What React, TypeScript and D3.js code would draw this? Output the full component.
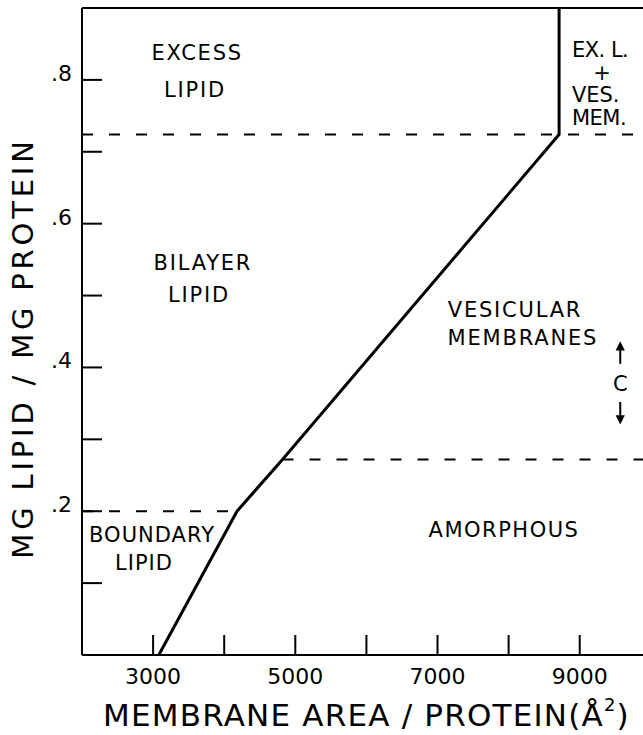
import React from 'react';
import * as d3 from 'd3';

// phase boundary (membrane area per protein, mg lipid / mg protein)
const boundaryPts: [number, number][] = [
  [3080, 0],
  [4180, 0.2],
  [4820, 0.272],
  [8710, 0.724],
  [8710, 0.9],
];

const dashedLines = [
  { y: 0.724, from: 2000, to: 9890 },
  { y: 0.2, from: 2000, to: 4180 },
  { y: 0.272, from: 4820, to: 9890 },
];

const xTicks = [3000, 4000, 5000, 6000, 7000, 8000, 9000];
const xTickLabels = [3000, 5000, 7000, 9000];
const yTicks = [0.1, 0.2, 0.3, 0.4, 0.5, 0.6, 0.7, 0.8];
const yTickLabels = [0.2, 0.4, 0.6, 0.8];

const regionLabels = [
  { text: 'EXCESS', x: 3620, y: 0.828, anchor: 'middle', sp: 1.8 },
  { text: 'LIPID', x: 3590, y: 0.776, anchor: 'middle', sp: 1.8 },
  { text: 'BILAYER', x: 3700, y: 0.5355, anchor: 'middle', sp: 1.8 },
  { text: 'LIPID', x: 3645, y: 0.491, anchor: 'middle', sp: 1.8 },
  { text: 'VESICULAR', x: 8090, y: 0.47, anchor: 'middle', sp: 1.8 },
  { text: 'MEMBRANES', x: 8200, y: 0.431, anchor: 'middle', sp: 1.8 },
  { text: 'AMORPHOUS', x: 7935, y: 0.164, anchor: 'middle', sp: 1.5 },
  { text: 'BOUNDARY', x: 2985, y: 0.157, anchor: 'middle', sp: 1 },
  { text: 'LIPID', x: 2872, y: 0.118, anchor: 'middle', sp: 1 },
  { text: 'EX. L.', x: 8890, y: 0.832, anchor: 'start', sp: -0.5 },
  { text: '+', x: 9313, y: 0.8, anchor: 'middle', sp: 0 },
  { text: 'VES.', x: 8890, y: 0.769, anchor: 'start', sp: 0 },
  { text: 'MEM.', x: 8890, y: 0.737, anchor: 'start', sp: -0.5 },
];

const cArrow = { x: 9570, top: 0.432, upEnd: 0.405, label: 0.367, downStart: 0.352, bottom: 0.325 };

const W = 643;
const H = 735;
const FONT = 'DejaVu Sans, sans-serif';

const App = () => {
  const x = d3.scaleLinear().domain([2000, 9890]).range([82, 643]);
  const y = d3.scaleLinear().domain([0, 0.9]).range([655, 8]);

  const line = d3.line<[number, number]>()
    .x(d => x(d[0]))
    .y(d => y(d[1]));

  const x0 = x(2000);
  const y0 = y(0);
  const yTop = y(0.9);
  const cx = x(cArrow.x);

  return (
    <svg width={W} height={H} style={{ position: 'absolute', left: 0, top: 0, background: '#fff' }}>
      {/* frame: left axis, bottom axis, top line */}
      <g stroke="#000" strokeWidth={2} fill="none">
        <line x1={x0} y1={yTop} x2={x0} y2={y0} />
        <line x1={x0} y1={y0} x2={W} y2={y0} />
        <line x1={x0} y1={yTop} x2={W} y2={yTop} />
        {xTicks.map(t => (
          <line key={'xt' + t} x1={x(t)} x2={x(t)} y1={y0} y2={y0 - 20} />
        ))}
        {yTicks.map(t => (
          <line key={'yt' + t} x1={x0} x2={x0 + 20} y1={y(t)} y2={y(t)} />
        ))}
      </g>

      {/* dashed phase limits */}
      <g stroke="#000" strokeWidth={2} strokeDasharray="11,16">
        {dashedLines.map((d, i) => (
          <line key={i} x1={x(d.from)} x2={x(d.to)} y1={y(d.y)} y2={y(d.y)} />
        ))}
      </g>

      <path d={line(boundaryPts) || ''} fill="none" stroke="#000" strokeWidth={3} strokeLinejoin="round" />

      {/* tick labels */}
      <g fontFamily={FONT} fontSize={22} fill="#000">
        {xTickLabels.map(t => (
          <text key={'xl' + t} x={x(t)} y={y0 + 29} textAnchor="middle">{t}</text>
        ))}
        {yTickLabels.map(t => (
          <text key={'yl' + t} x={72} y={y(t) + 1} textAnchor="end">{'.' + Math.round(t * 10)}</text>
        ))}
      </g>

      {/* region labels */}
      <g fontFamily={FONT} fontSize={21} fill="#000">
        {regionLabels.map((d, i) => (
          <text key={i} x={x(d.x)} y={y(d.y)} textAnchor={d.anchor as any} letterSpacing={d.sp}>{d.text}</text>
        ))}
      </g>

      {/* C arrows */}
      <g stroke="#000" strokeWidth={2} fill="#000">
        <line x1={cx} x2={cx} y1={y(cArrow.top)} y2={y(cArrow.upEnd)} />
        <path d={`M${cx - 3},${y(cArrow.top) + 5} L${cx},${y(cArrow.top) - 1} L${cx + 3},${y(cArrow.top) + 5} Z`} />
        <line x1={cx} x2={cx} y1={y(cArrow.downStart)} y2={y(cArrow.bottom)} />
        <path d={`M${cx - 3},${y(cArrow.bottom) - 5} L${cx},${y(cArrow.bottom) + 1} L${cx + 3},${y(cArrow.bottom) - 5} Z`} />
      </g>
      <text x={cx} y={y(cArrow.label)} fontFamily={FONT} fontSize={21} textAnchor="middle">C</text>

      {/* axis titles */}
      <text
        transform={`translate(33,348) rotate(-90)`}
        fontFamily={FONT}
        fontSize={29}
        letterSpacing={3.8}
        textAnchor="middle"
      >
        MG LIPID / MG PROTEIN
      </text>
      <text x={103} y={726} fontFamily={FONT} fontSize={31} letterSpacing={1.2}>
        MEMBRANE AREA / PROTEIN(Å
        <tspan fontSize={18} dy={-15}>2</tspan>
        <tspan dy={15}>)</tspan>
      </text>
    </svg>
  );
};

export default App;
